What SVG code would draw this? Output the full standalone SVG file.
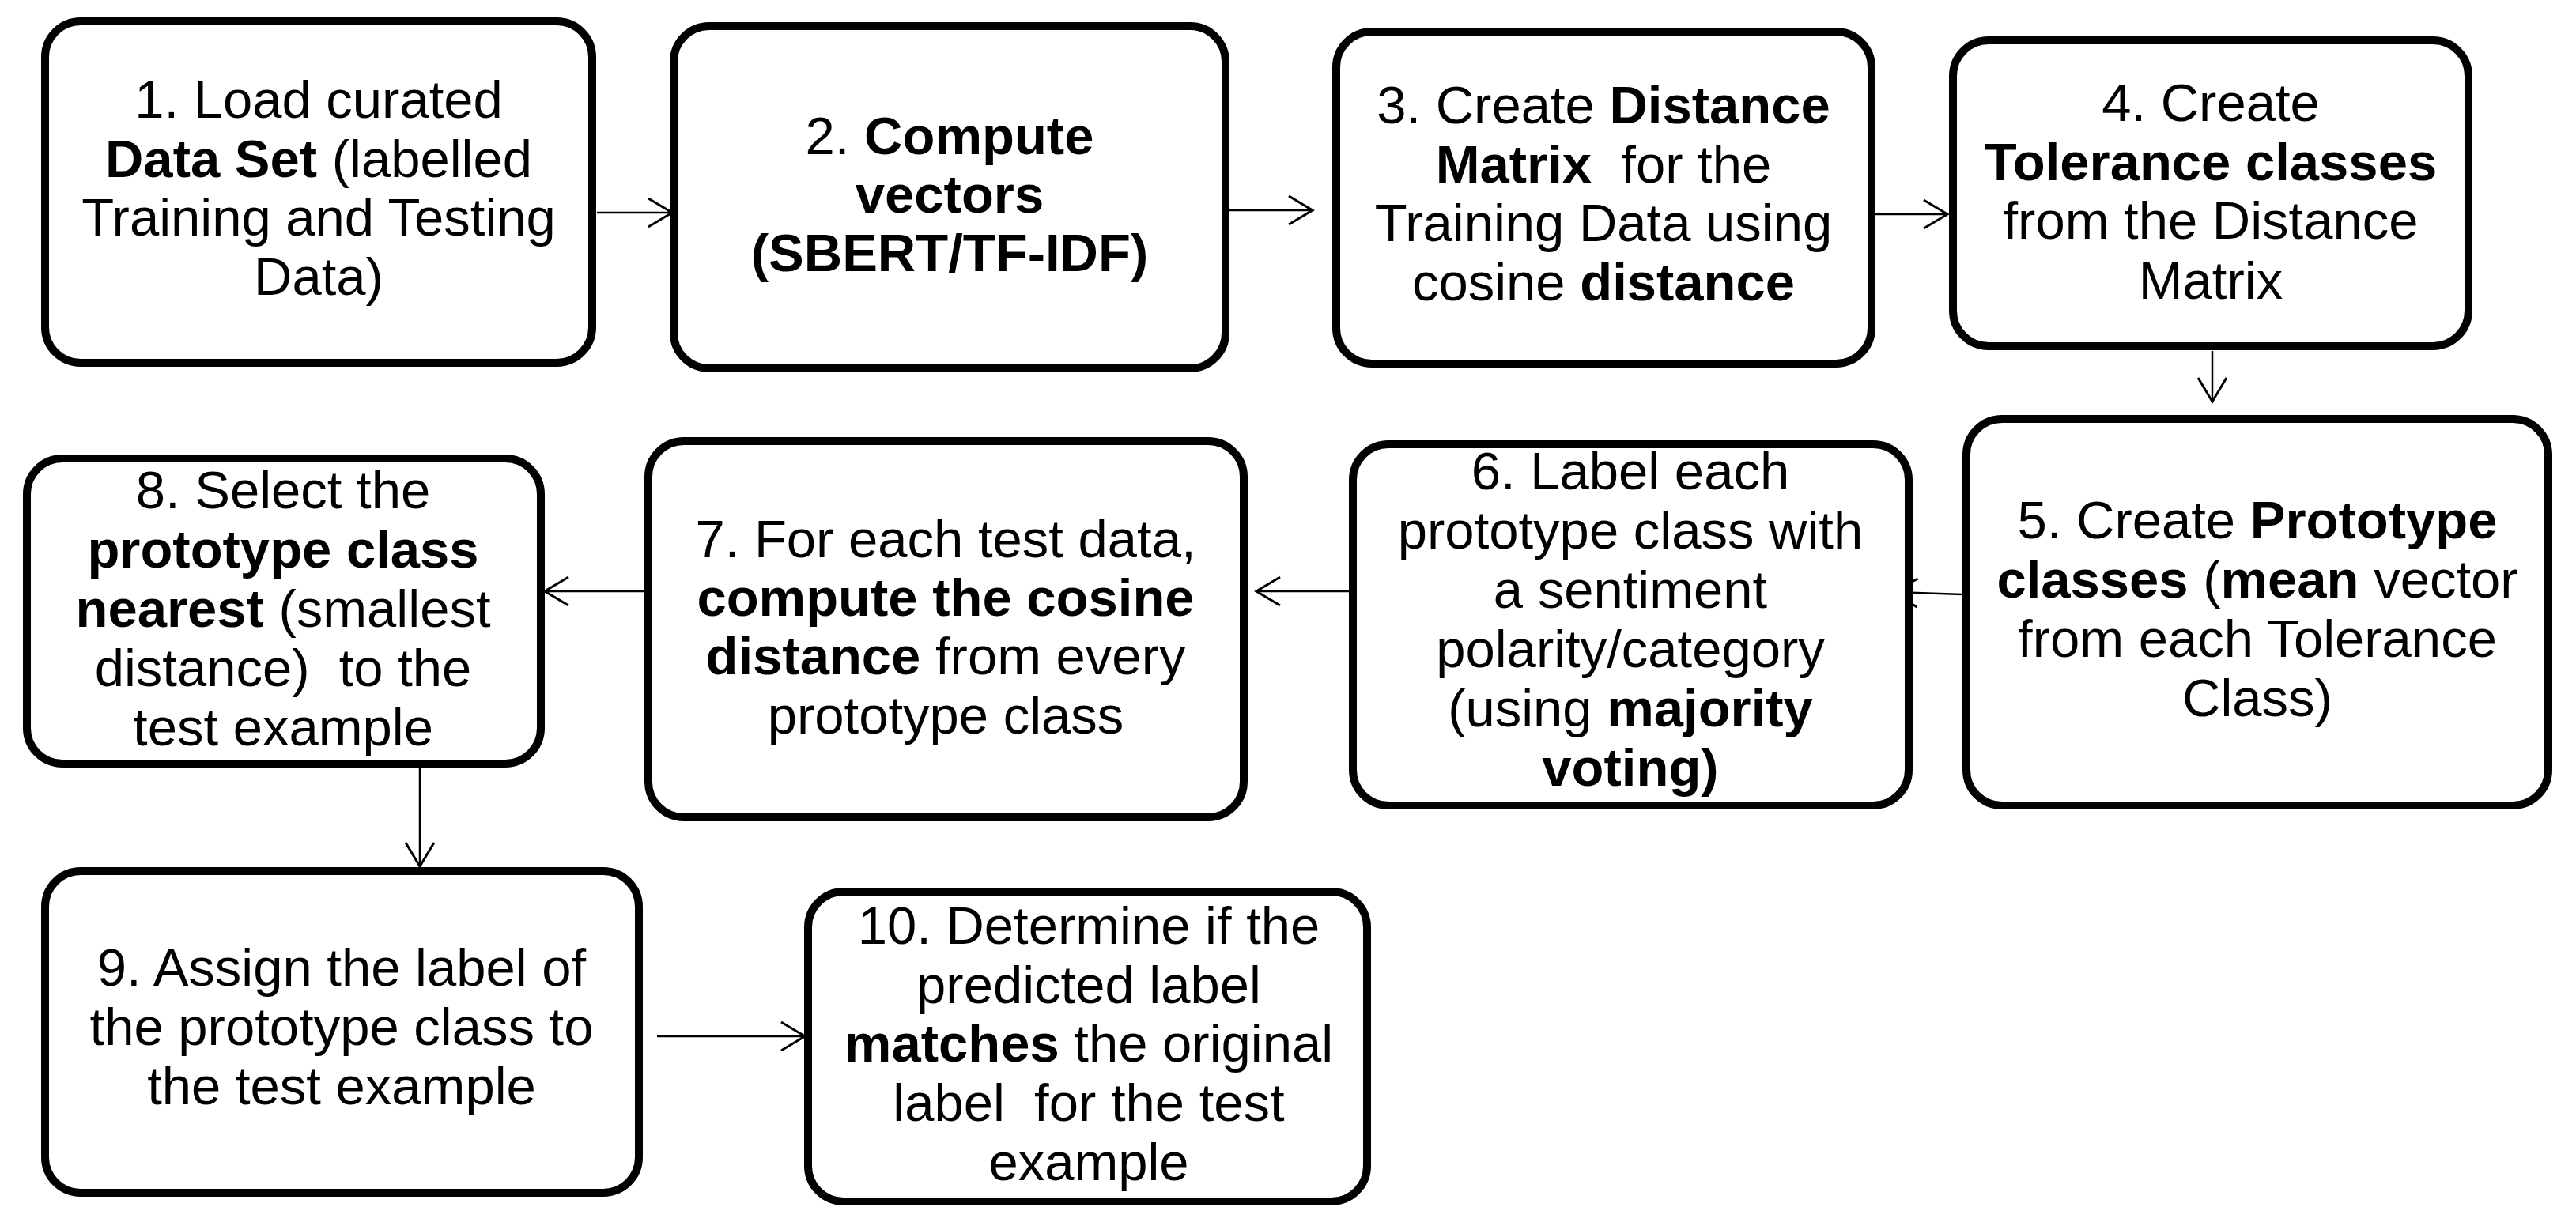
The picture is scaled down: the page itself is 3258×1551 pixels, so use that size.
<svg xmlns="http://www.w3.org/2000/svg" width="3258" height="1551" viewBox="0 0 3258 1551">
<style>
.box{fill:#fff;stroke:#000;stroke-width:10}
.t{font-family:"Liberation Sans",Arial,sans-serif;font-size:67px;fill:#000;text-anchor:middle}
.b{font-weight:bold}
.c{fill:none;stroke:#000;stroke-width:2.5}
</style>
<defs>
<marker id="ah" markerUnits="userSpaceOnUse" markerWidth="40" markerHeight="44" refX="32" refY="20" orient="auto" overflow="visible">
<path d="M2 2 L32 20 L2 38" fill="none" stroke="#000" stroke-width="3"/>
</marker>
</defs>
<rect width="3258" height="1551" fill="#fff"/>
<g id="connectors">
<line class="c" x1="755" y1="269" x2="850" y2="269" marker-end="url(#ah)"/>
<line class="c" x1="1555" y1="266" x2="1660" y2="266" marker-end="url(#ah)"/>
<line class="c" x1="2372" y1="271" x2="2463" y2="271" marker-end="url(#ah)"/>
<line class="c" x1="2798" y1="444" x2="2798" y2="508" marker-end="url(#ah)"/>
<line class="c" x1="2482" y1="752" x2="2395" y2="749" marker-end="url(#ah)"/>
<line class="c" x1="1706" y1="748" x2="1589" y2="748" marker-end="url(#ah)"/>
<line class="c" x1="815" y1="748" x2="689" y2="748" marker-end="url(#ah)"/>
<line class="c" x1="531" y1="971" x2="531" y2="1096" marker-end="url(#ah)"/>
<line class="c" x1="831" y1="1311" x2="1018" y2="1311" marker-end="url(#ah)"/>
</g>
<g id="n1">
<rect class="box" x="57" y="27" width="692" height="432" rx="45"/>
<text class="t" x="403" y="149">1. Load curated</text>
<text class="t" x="403" y="224"><tspan class="b">Data Set</tspan> (labelled</text>
<text class="t" x="403" y="298">Training and Testing</text>
<text class="t" x="403" y="373">Data)</text>
</g>
<g id="n2">
<rect class="box" x="852" y="33" width="698" height="433" rx="45"/>
<text class="t" x="1201" y="195">2. <tspan class="b">Compute</tspan></text>
<text class="t b" x="1201" y="269">vectors</text>
<text class="t b" x="1201" y="343">(SBERT/TF-IDF)</text>
</g>
<g id="n3">
<rect class="box" x="1690" y="40" width="677" height="420" rx="45"/>
<text class="t" x="2028" y="156">3. Create <tspan class="b">Distance</tspan></text>
<text class="t" x="2028" y="231" xml:space="preserve"><tspan class="b">Matrix</tspan>  for the</text>
<text class="t" x="2028" y="305">Training Data using</text>
<text class="t" x="2028" y="380">cosine <tspan class="b">distance</tspan></text>
</g>
<g id="n4">
<rect class="box" x="2470" y="51" width="652" height="387" rx="45"/>
<text class="t" x="2796" y="153">4. Create</text>
<text class="t b" x="2796" y="228">Tolerance classes</text>
<text class="t" x="2796" y="302">from the Distance</text>
<text class="t" x="2796" y="378">Matrix</text>
</g>
<g id="n5">
<rect class="box" x="2487" y="530" width="736" height="489" rx="45"/>
<text class="t" x="2855" y="681">5. Create <tspan class="b">Prototype</tspan></text>
<text class="t" x="2855" y="756"><tspan class="b">classes</tspan> (<tspan class="b">mean</tspan> vector</text>
<text class="t" x="2855" y="831">from each Tolerance</text>
<text class="t" x="2855" y="906">Class)</text>
</g>
<g id="n6">
<rect class="box" x="1711" y="562" width="703" height="457" rx="45"/>
<text class="t" x="2062" y="619">6. Label each</text>
<text class="t" x="2062" y="694">prototype class with</text>
<text class="t" x="2062" y="769">a sentiment</text>
<text class="t" x="2062" y="844">polarity/category</text>
<text class="t" x="2062" y="919">(using <tspan class="b">majority</tspan></text>
<text class="t" x="2062" y="994"><tspan class="b">voting)</tspan></text>
</g>
<g id="n7">
<rect class="box" x="820" y="558" width="753" height="476" rx="45"/>
<text class="t" x="1196" y="705">7. For each test data,</text>
<text class="t b" x="1196" y="779">compute the cosine</text>
<text class="t" x="1196" y="853"><tspan class="b">distance</tspan> from every</text>
<text class="t" x="1196" y="928">prototype class</text>
</g>
<g id="n8">
<rect class="box" x="34" y="580" width="650" height="386" rx="45"/>
<text class="t" x="358" y="643">8. Select the</text>
<text class="t b" x="358" y="718">prototype class</text>
<text class="t" x="358" y="793"><tspan class="b">nearest</tspan> (smallest</text>
<text class="t" x="358" y="868" xml:space="preserve">distance)  to the</text>
<text class="t" x="358" y="943">test example</text>
</g>
<g id="n9">
<rect class="box" x="57" y="1102" width="751" height="407" rx="45"/>
<text class="t" x="432" y="1247">9. Assign the label of</text>
<text class="t" x="432" y="1322">the prototype class to</text>
<text class="t" x="432" y="1397">the test example</text>
</g>
<g id="n10">
<rect class="box" x="1022" y="1128" width="707" height="392" rx="45"/>
<text class="t" x="1377" y="1194">10. Determine if the</text>
<text class="t" x="1377" y="1269">predicted label</text>
<text class="t" x="1377" y="1343"><tspan class="b">matches</tspan> the original</text>
<text class="t" x="1377" y="1418" xml:space="preserve">label  for the test</text>
<text class="t" x="1377" y="1493">example</text>
</g>
</svg>
